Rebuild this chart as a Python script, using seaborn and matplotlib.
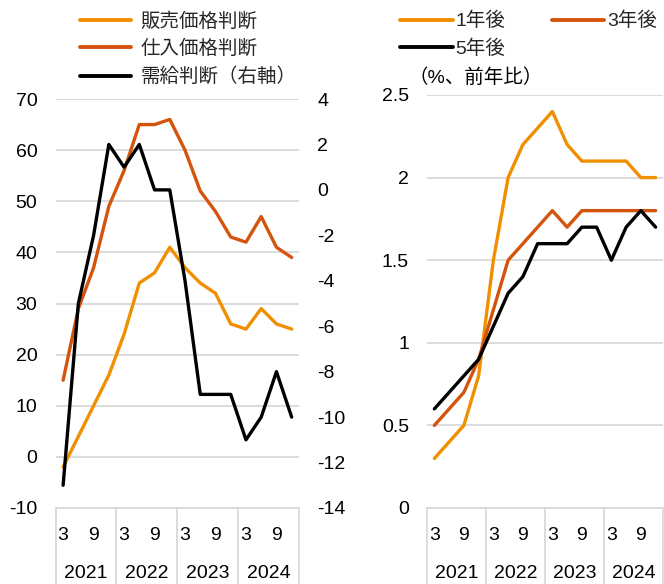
import numpy as np
import pandas as pd
import matplotlib
matplotlib.use("Agg")
import matplotlib.pyplot as plt
import seaborn as sns
from matplotlib.transforms import blended_transform_factory
from matplotlib.lines import Line2D
from matplotlib.ticker import FuncFormatter

# ---------------- data ----------------
years = ["2021", "2022", "2023", "2024"]
months = [3, 6, 9, 12]
month_list = [m for y in years for m in months]
idx = list(range(len(month_list)))

sales_price = [-2, 4, 10, 16, 24, 34, 36, 41, 37, 34, 32, 26, 25, 29, 26, 25]
input_price = [15, 29, 37, 49, 56, 65, 65, 66, 60, 52, 48, 43, 42, 47, 41, 39]
supply_demand = [-13, -5, -2, 2, 1, 2, 0, 0, -4, -9, -9, -9, -11, -10, -8, -10]

exp_1y = [0.3, 0.4, 0.5, 0.8, 1.5, 2.0, 2.2, 2.3, 2.4, 2.2, 2.1, 2.1, 2.1, 2.1, 2.0, 2.0]
exp_3y = [0.5, 0.6, 0.7, 0.9, 1.2, 1.5, 1.6, 1.7, 1.8, 1.7, 1.8, 1.8, 1.8, 1.8, 1.8, 1.8]
exp_5y = [0.6, 0.7, 0.8, 0.9, 1.1, 1.3, 1.4, 1.6, 1.6, 1.6, 1.7, 1.7, 1.5, 1.7, 1.8, 1.7]

left_names = ["販売価格判断", "仕入価格判断", "需給判断（右軸）"]
right_names = ["1年後", "3年後", "5年後"]
tick_month_labels = {3: "3", 9: "9"}

LIGHT = "#F08F00"
DARK = "#D5540C"
BLACK = "#000000"
GRID = "#D9D9D9"

# ---------------- style ----------------
sns.set_theme(style="white")
plt.rcParams["font.family"] = ["Liberation Sans", "Noto Sans CJK JP", "DejaVu Sans"]
plt.rcParams["axes.unicode_minus"] = False
FS = 14

W, H = 664, 584
fig = plt.figure(figsize=(W / 100, H / 100), dpi=100)

axL = fig.add_axes([55.5 / W, 76 / H, (299.3 - 55.5) / W, (508 - 99) / H])
axR = fig.add_axes([427 / W, 76 / H, (663 - 427) / W, (508 - 95) / H])

# ---------------- left panel ----------------
dfl = pd.DataFrame({
    "x": idx * 2,
    "value": sales_price + input_price,
    "series": [left_names[0]] * len(idx) + [left_names[1]] * len(idx),
})
sns.lineplot(data=dfl, x="x", y="value", hue="series",
             palette={left_names[0]: LIGHT, left_names[1]: DARK},
             linewidth=2.4, ax=axL, legend=False)
axL2 = axL.twinx()
dfs = pd.DataFrame({"x": idx, "value": supply_demand})
sns.lineplot(data=dfs, x="x", y="value", color=BLACK, linewidth=2.4, ax=axL2, legend=False)

axL.set_ylim(-10, 70)
axL.set_yticks(np.arange(-10, 71, 10))
axL2.set_ylim(-14, 4)
axL2.set_yticks(np.arange(-14, 5, 2))

# ---------------- right panel ----------------
dfr = pd.DataFrame({
    "x": idx * 3,
    "value": exp_1y + exp_3y + exp_5y,
    "series": sum([[n] * len(idx) for n in right_names], []),
})
sns.lineplot(data=dfr, x="x", y="value", hue="series",
             palette={right_names[0]: LIGHT, right_names[1]: DARK, right_names[2]: BLACK},
             linewidth=2.4, ax=axR, legend=False)
axR.set_ylim(0, 2.5)
axR.set_yticks(np.arange(0, 2.51, 0.5))
axR.yaxis.set_major_formatter(FuncFormatter(lambda v, p: f"{v:g}"))

# ---------------- common axis styling ----------------
major_pos = [i for i, m in enumerate(month_list) if m in tick_month_labels]
major_lab = [tick_month_labels[month_list[i]] for i in major_pos]
year_pos = [i * 4 + 1.5 for i in range(len(years))]
bounds = [i * 4 - 0.5 for i in range(len(years) + 1)]

for ax in (axL, axR):
    ax.set_xlim(-0.5, len(idx) - 0.5)
    ax.set_xlabel("")
    ax.set_ylabel("")
    for s in ax.spines.values():
        s.set_visible(False)
    ax.yaxis.grid(True, color=GRID, linewidth=1.3)
    ax.xaxis.grid(False)
    ax.set_axisbelow(True)
    ax.set_xticks(major_pos)
    ax.set_xticklabels(major_lab)
    ax.set_xticks(year_pos, minor=True)
    ax.set_xticklabels(years, minor=True)
    ax.tick_params(axis="x", which="major", length=0, pad=14, labelsize=FS, colors="black")
    ax.tick_params(axis="x", which="minor", length=0, pad=41, labelsize=FS, colors="black")
    ax.tick_params(axis="y", length=0, pad=13, labelsize=FS, colors="black")
    trans = blended_transform_factory(ax.transData, ax.transAxes)
    ax.add_line(Line2D([-0.5, len(idx) - 0.5], [0, 0], transform=trans, color=GRID,
                       linewidth=1.3, clip_on=False))
    bottom_frac = -76 / ax.bbox.height
    for b in bounds:
        ax.add_line(Line2D([b, b], [0, bottom_frac], transform=trans, color=GRID,
                           linewidth=1.3, clip_on=False))

axL2.set_ylabel("")
for s in axL2.spines.values():
    s.set_visible(False)
axL2.tick_params(axis="y", length=0, pad=13, labelsize=FS, colors="black")
axL2.grid(False)

axR.annotate("（%、前年比）", xy=(0, 1), xycoords="axes fraction",
             xytext=(-19, 17), textcoords="offset pixels",
             ha="left", va="center", fontsize=FS, color="black")

# ---------------- legends ----------------
hL = [Line2D([], [], color=c, linewidth=2.8) for c in (LIGHT, DARK, BLACK)]
fig.legend(hL, left_names, loc="upper left", bbox_to_anchor=(80 / W, 1 - 12 / H),
           frameon=False, fontsize=FS, handlelength=2.6, handletextpad=0.5,
           labelspacing=0.48, borderpad=0, borderaxespad=0)

hR = [Line2D([], [], color=c, linewidth=2.8) for c in (LIGHT, BLACK, DARK)]
fig.legend(hR, [right_names[0], right_names[2], right_names[1]], ncol=2,
           loc="upper left", bbox_to_anchor=(400 / W, 1 - 12 / H),
           frameon=False, fontsize=FS, handlelength=2.7, handletextpad=0.15,
           labelspacing=0.48, columnspacing=2.4, borderpad=0, borderaxespad=0)

fig.savefig("out.png", dpi=100)
